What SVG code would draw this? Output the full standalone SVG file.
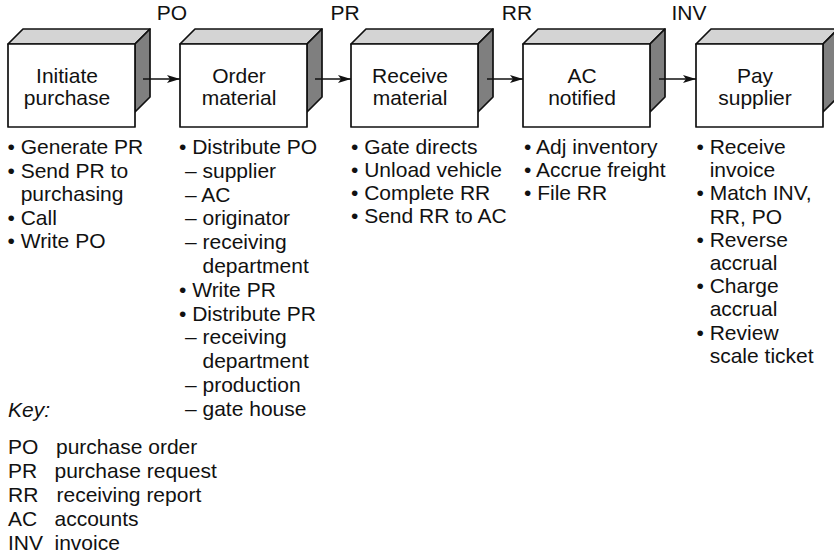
<svg xmlns="http://www.w3.org/2000/svg" width="834" height="556" viewBox="0 0 834 556">
<style>
text{font-family:"Liberation Sans",Arial,sans-serif;font-size:21px;fill:#111}
.c{text-anchor:middle}
.front{fill:#fff;stroke:#111;stroke-width:1.7;stroke-linejoin:round}
.top{fill:#d4d4d4;stroke:#111;stroke-width:1.7;stroke-linejoin:round}
.side{fill:#7f7f7f;stroke:#111;stroke-width:1.7;stroke-linejoin:round}
.conn{stroke:#111;stroke-width:1.5;fill:none}
.it{font-style:italic}
</style>
<defs>
<marker id="ah" markerWidth="13" markerHeight="8" refX="13" refY="4" orient="auto" markerUnits="userSpaceOnUse">
<path d="M0,0 L13,4 L0,8 L3,4 Z" fill="#111"/>
</marker>
<g id="box">
<path class="top" d="M0,15 L15,0 L142,0 L127,15 Z"/>
<path class="side" d="M127,15 L142,0 L142,68 L127,83 Z"/>
<rect class="front" x="0" y="15" width="127" height="83"/>
</g>
</defs>

<g id="node-initiate">
<use href="#box" x="8" y="29"/>
<text class="c" x="67" y="83">Initiate</text>
<text class="c" x="67" y="105">purchase</text>
</g>
<g id="node-order">
<use href="#box" x="180" y="29"/>
<text class="c" x="239" y="83">Order</text>
<text class="c" x="239" y="105">material</text>
</g>
<g id="node-receive">
<use href="#box" x="351" y="29"/>
<text class="c" x="410" y="83">Receive</text>
<text class="c" x="410" y="105">material</text>
</g>
<g id="node-ac">
<use href="#box" x="523" y="29"/>
<text class="c" x="582" y="83">AC</text>
<text class="c" x="582" y="105">notified</text>
</g>
<g id="node-pay">
<use href="#box" x="696" y="29"/>
<text class="c" x="755" y="83">Pay</text>
<text class="c" x="755" y="105">supplier</text>
</g>

<g id="connectors">
<line class="conn" x1="143" y1="79" x2="180" y2="79" marker-end="url(#ah)"/>
<line class="conn" x1="315" y1="79" x2="351" y2="79" marker-end="url(#ah)"/>
<line class="conn" x1="487" y1="79" x2="523" y2="79" marker-end="url(#ah)"/>
<line class="conn" x1="659" y1="79" x2="696" y2="79" marker-end="url(#ah)"/>
<text class="c" x="172" y="20">PO</text>
<text class="c" x="345" y="20">PR</text>
<text class="c" x="517" y="20">RR</text>
<text class="c" x="689" y="20">INV</text>
</g>

<g id="list-initiate">
<text x="7.5" y="154">• Generate PR</text>
<text x="7.5" y="177.5">• Send PR to</text>
<text x="20.7" y="201">purchasing</text>
<text x="7.5" y="224.5">• Call</text>
<text x="7.5" y="248">• Write PO</text>
</g>

<g id="list-order">
<text x="179" y="154">• Distribute PO</text>
<text x="185" y="177.8">– supplier</text>
<text x="185" y="201.6">– AC</text>
<text x="185" y="225.4">– originator</text>
<text x="185" y="249.2">– receiving</text>
<text x="202.5" y="273">department</text>
<text x="179" y="296.8">• Write PR</text>
<text x="179" y="320.6">• Distribute PR</text>
<text x="185" y="344.4">– receiving</text>
<text x="202.5" y="368.2">department</text>
<text x="185" y="392">– production</text>
<text x="185" y="415.8">– gate house</text>
</g>

<g id="list-receive">
<text x="351" y="154">• Gate directs</text>
<text x="351" y="177">• Unload vehicle</text>
<text x="351" y="200">• Complete RR</text>
<text x="351" y="223">• Send RR to AC</text>
</g>

<g id="list-ac">
<text x="524" y="154">• Adj inventory</text>
<text x="524" y="177">• Accrue freight</text>
<text x="524" y="200">• File RR</text>
</g>

<g id="list-pay">
<text x="696.5" y="154">• Receive</text>
<text x="709.7" y="177.2">invoice</text>
<text x="696.5" y="200.4">• Match INV,</text>
<text x="709.7" y="223.6">RR, PO</text>
<text x="696.5" y="246.8">• Reverse</text>
<text x="709.7" y="270">accrual</text>
<text x="696.5" y="293.2">• Charge</text>
<text x="709.7" y="316.4">accrual</text>
<text x="696.5" y="339.6">• Review</text>
<text x="709.7" y="362.8">scale ticket</text>
</g>

<g id="key">
<text class="it" x="8" y="416.5">Key:</text>
<text x="8" y="454">PO</text><text x="56" y="454">purchase order</text>
<text x="8" y="478">PR</text><text x="54.5" y="478">purchase request</text>
<text x="8" y="502">RR</text><text x="56.5" y="502">receiving report</text>
<text x="8" y="526">AC</text><text x="54.5" y="526">accounts</text>
<text x="8" y="550">INV</text><text x="54.5" y="550">invoice</text>
</g>
</svg>
